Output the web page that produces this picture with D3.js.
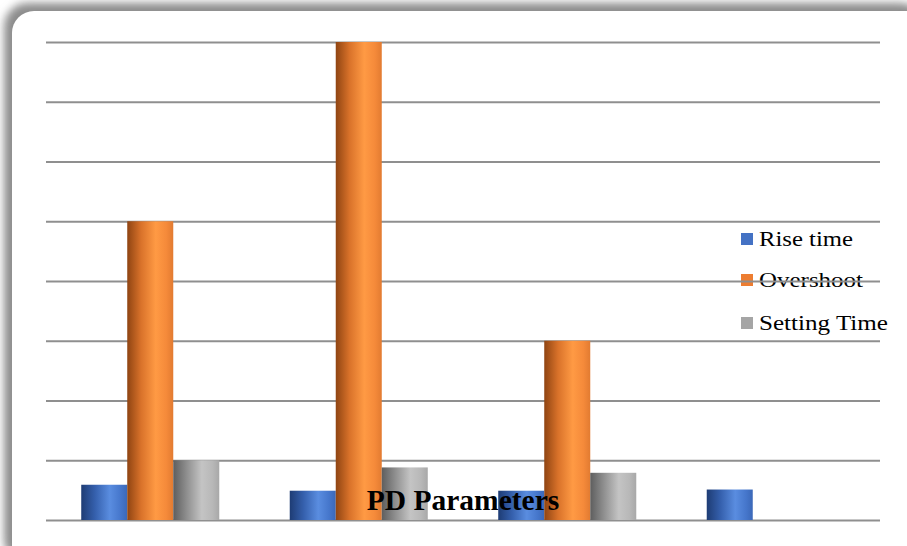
<!DOCTYPE html>
<html>
<head>
<meta charset="utf-8">
<script src="https://cdn.jsdelivr.net/npm/d3@7/dist/d3.min.js"></script>
<style>
  html, body { margin: 0; padding: 0; background: #ffffff; }
  svg { display: block; }
</style>
</head>
<body>
<div id="chart"></div>
<script>
// PD controller response parameters, four test cases
const categories = ["Case 1", "Case 2", "Case 3", "Case 4"];
const seriesNames = ["Rise time", "Overshoot", "Setting Time"];
const riseTime    = [2.95, 2.45, 2.45, 2.55];
const overshoot   = [25, 40, 15, null];
const settingTime = [5.0, 4.4, 3.95, null];
const yTicks = [0, 5, 10, 15, 20, 25, 30, 35, 40];
const titleText = "PD Parameters";

const seriesValues = [riseTime, overshoot, settingTime];

const W = 907, H = 546;
const plot = { left: 46, right: 880, top: 42, bottom: 520 };

const svg = d3.select("#chart").append("svg")
  .attr("width", W).attr("height", H);

const defs = svg.append("defs");

// soft shadow behind the panel
defs.append("filter").attr("id", "panelShadow")
  .attr("x", "-5%").attr("y", "-5%").attr("width", "110%").attr("height", "110%")
  .append("feGaussianBlur").attr("stdDeviation", 4);

// cylinder shading per series
const shades = [
  { id: "gBlue",   stops: [["0%", "#1e3c74"], ["30%", "#3560ad"], ["62%", "#5a8de0"], ["85%", "#4677cc"], ["100%", "#3b68b8"]], key: "#4472c4" },
  { id: "gOrange", stops: [["0%", "#8f4412"], ["30%", "#d9722a"], ["62%", "#ff9a44"], ["85%", "#f58a3a"], ["100%", "#e27b31"]], key: "#ed7d31" },
  { id: "gGray",   stops: [["0%", "#5e5e5e"], ["30%", "#909090"], ["62%", "#c4c4c4"], ["85%", "#b8b8b8"], ["100%", "#a8a8a8"]], key: "#a5a5a5" }
];
shades.forEach(s => {
  const g = defs.append("linearGradient").attr("id", s.id)
    .attr("x1", "0%").attr("x2", "100%").attr("y1", "0%").attr("y2", "0%");
  s.stops.forEach(([o, c]) => g.append("stop").attr("offset", o).attr("stop-color", c));
});

// panel
svg.append("rect")
  .attr("x", 4).attr("y", 3).attr("width", 920).attr("height", 560)
  .attr("rx", 24).attr("fill", "#8c8c8c")
  .attr("filter", "url(#panelShadow)");
svg.append("rect")
  .attr("x", 12).attr("y", 11).attr("width", 920).attr("height", 560)
  .attr("rx", 22).attr("fill", "#ffffff");

// scales
const y = d3.scaleLinear().domain([0, 40]).range([plot.bottom, plot.top]);
const x0 = d3.scaleBand().domain(categories)
  .range([plot.left, plot.right])
  .paddingInner(0.338).paddingOuter(0.169);
const x1 = d3.scaleBand().domain(seriesNames)
  .range([0, x0.bandwidth()]).padding(0);

// legend (gridlines are drawn over it); labels are set wide
const legend = svg.append("g").attr("transform", "translate(741,0)");
const legendRows = [246, 287, 330];
const legendWidths = [94, 104, 129];
seriesNames.forEach((name, i) => {
  const row = legend.append("g").attr("transform", `translate(0,${legendRows[i]})`);
  row.append("rect").attr("x", 0).attr("y", -13).attr("width", 12).attr("height", 12)
    .attr("fill", shades[i].key);
  row.append("text").attr("x", 18).attr("y", 0)
    .attr("font-family", "'Liberation Serif', 'Times New Roman', serif")
    .attr("font-size", 20).attr("fill", "#000")
    .attr("textLength", legendWidths[i])
    .attr("lengthAdjust", "spacingAndGlyphs")
    .text(name);
});

// gridlines
const yAxis = d3.axisLeft(y).tickValues(yTicks)
  .tickSize(-(plot.right - plot.left)).tickFormat("");
const grid = svg.append("g").attr("transform", `translate(${plot.left},0)`).call(yAxis);
grid.select(".domain").remove();
grid.selectAll(".tick line").attr("stroke", "#8f8f8f").attr("stroke-width", 2);

// bars
const groups = svg.append("g").selectAll("g")
  .data(categories)
  .join("g")
  .attr("transform", d => `translate(${x0(d)},0)`);

groups.selectAll("rect")
  .data((d, ci) => seriesNames.map((s, si) => ({ s, si, v: seriesValues[si][ci] }))
    .filter(e => e.v != null))
  .join("rect")
  .attr("x", d => x1(d.s))
  .attr("width", x1.bandwidth())
  .attr("y", d => y(d.v))
  .attr("height", d => y(0) - y(d.v))
  .attr("fill", d => `url(#${shades[d.si].id})`);

// title
svg.append("text")
  .attr("x", (plot.left + plot.right) / 2).attr("y", 510)
  .attr("text-anchor", "middle")
  .attr("font-family", "'Liberation Serif', 'Times New Roman', serif")
  .attr("font-weight", "bold").attr("font-size", 29.5)
  .attr("fill", "#000")
  .text(titleText);
</script>
</body>
</html>
